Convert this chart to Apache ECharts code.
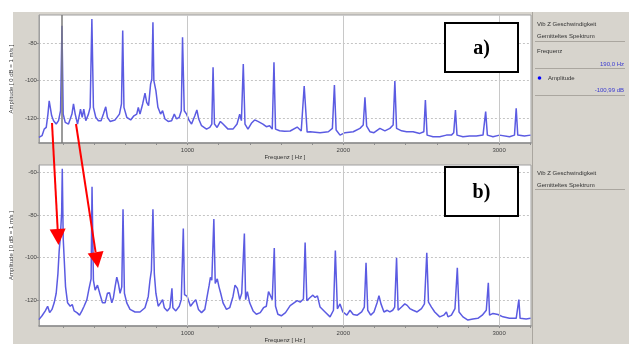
<!DOCTYPE html>
<html>
<head>
<meta charset="utf-8">
<script src="https://cdn.jsdelivr.net/npm/echarts@6/dist/echarts.min.js"></script>
<style>
html, body { margin: 0; padding: 0; background: #fff; }
#con { width: 629px; height: 344px; }
</style>
</head>
<body>
<div id="con"></div>
<script>
// a) Spektrum oben
var freqA = [
	46, 66, 80, 93, 104, 112, 119, 128, 140, 157,
	172, 185, 194, 202, 215, 236, 258, 268, 279, 294,
	307, 313, 324, 334, 347, 364, 375, 386, 396, 411,
	428, 445, 460, 475, 486, 503, 535, 563, 576, 584,
	592, 610, 635, 656, 674, 684, 695, 712, 727, 738,
	750, 763, 771, 778, 784, 797, 810, 827, 840, 855,
	876, 898, 915, 930, 947, 960, 968, 979, 994, 1011,
	1026, 1047, 1060, 1072, 1090, 1122, 1143, 1156, 1164, 1173,
	1190, 1211, 1228, 1260, 1292, 1318, 1335, 1346, 1358, 1369,
	1388, 1410, 1431, 1452, 1484, 1506, 1527, 1544, 1555, 1565,
	1591, 1623, 1659, 1704, 1730, 1749, 1768, 1787, 1851, 1904,
	1930, 1943, 1954, 1979, 2011, 2064, 2107, 2128, 2139, 2150,
	2171, 2197, 2235, 2267, 2299, 2320, 2331, 2342, 2374, 2406,
	2448, 2491, 2517, 2527, 2538, 2576, 2619, 2662, 2694, 2709,
	2720, 2730, 2768, 2811, 2854, 2897, 2914, 2925, 2961, 3003,
	3067, 3099, 3110, 3120, 3163, 3202
];
var ampA = [
	-130.3, -129.4, -125.9, -125, -117.9, -110.8, -114.3, -118.8, -121.4, -123.2,
	-121.4, -116, -70.8, -117.9, -122.3, -123.2, -117.9, -112.5, -117.9, -123.2,
	-117.9, -115.2, -119.6, -115.2, -121.4, -117.9, -114.3, -67.2, -114.3, -119.6,
	-121.4, -121.4, -117.9, -114, -119.6, -121.8, -121, -117.9, -112.5, -73.4,
	-114.3, -119.6, -121, -118.8, -117.9, -114.3, -117.9, -112.5, -106.8, -111.6,
	-113.4, -101.9, -99.2, -69, -100.1, -105.4, -114.3, -117.9, -116.1, -120.5,
	-121.8, -121.4, -117.9, -120.5, -119.6, -116.1, -77, -116.1, -117.9, -121.4,
	-123.2, -118.8, -115.7, -120.5, -124.1, -125.9, -125, -123.2, -93, -123.2,
	-125, -121.8, -123.2, -125.9, -125.9, -123.2, -117.9, -121.4, -91.2, -123.2,
	-125.9, -122.8, -121, -121.8, -123.2, -124.6, -124.1, -125.9, -90.3, -125.9,
	-126.8, -127.1, -126.9, -124.8, -126.9, -102.9, -127.5, -127.3, -127.8, -127.3,
	-125.5, -102.4, -126.4, -129.1, -127.8, -127.3, -125.5, -123.7, -109, -124.3,
	-127.3, -127.8, -125.5, -126.8, -125.5, -123.7, -100.3, -125.5, -126.8, -127.3,
	-127.3, -128.2, -127.3, -110.4, -129.1, -130, -130, -129.1, -129.1, -127.8,
	-115.7, -129.1, -130, -129.6, -129.6, -129.1, -116.6, -129.1, -130, -129.1,
	-130, -129.1, -114.8, -129.1, -129.6, -129.1
];

// b) Spektrum unten
var freqB = [
	46, 66, 87, 102, 115, 130, 144, 157, 168, 176,
	183, 192, 196, 202, 209, 217, 230, 247, 260, 272,
	290, 307, 322, 336, 354, 368, 381, 387, 396, 407,
	422, 432, 439, 454, 471, 486, 499, 514, 524, 535,
	546, 556, 567, 578, 586, 595, 610, 631, 663, 695,
	727, 748, 759, 768, 778, 787, 797, 812, 827, 840,
	851, 870, 887, 896, 900, 906, 925, 947, 960, 973,
	981, 998, 1019, 1036, 1053, 1070, 1090, 1111, 1126, 1139,
	1147, 1156, 1169, 1178, 1191, 1202, 1213, 1228, 1250, 1271,
	1292, 1305, 1320, 1335, 1348, 1365, 1373, 1384, 1399, 1421,
	1442, 1467, 1488, 1506, 1520, 1531, 1544, 1557, 1565, 1580,
	1602, 1629, 1659, 1704, 1723, 1744, 1755, 1766, 1787, 1805,
	1819, 1834, 1851, 1883, 1915, 1937, 1949, 1962, 1979, 1997,
	2023, 2043, 2064, 2090, 2118, 2135, 2146, 2157, 2176, 2197,
	2218, 2229, 2242, 2261, 2282, 2299, 2317, 2330, 2342, 2352,
	2374, 2395, 2410, 2427, 2448, 2474, 2502, 2521, 2536, 2547,
	2566, 2587, 2619, 2645, 2662, 2672, 2694, 2717, 2732, 2743,
	2768, 2800, 2832, 2864, 2892, 2918, 2931, 2939, 2961, 2993,
	3025, 3067, 3110, 3127, 3135, 3174, 3202
];
var ampB = [
	-129.2, -127.4, -125.1, -122.9, -125.9, -124.4, -121.3, -116.8, -107.7, -97,
	-91, -78.8, -58.3, -91, -101.6, -113.8, -121.3, -122.9, -122.1, -125.1,
	-125.9, -127.1, -125.1, -122.9, -119.8, -114.5, -110, -66.7, -110.7, -115.3,
	-113, -113.8, -117.5, -121.3, -121.3, -116.8, -116.5, -121.3, -119, -113.8,
	-109.2, -112.2, -116.8, -113.8, -77.3, -116.8, -121.3, -124.4, -125.6, -125.6,
	-123.6, -118.3, -110.7, -106.2, -77.3, -107.7, -116.8, -122.9, -121.3, -119.8,
	-123.6, -125.1, -123.6, -122.9, -114.5, -123.6, -125.1, -122.9, -119.8, -86.4,
	-117.5, -118.3, -122.9, -121.3, -119.8, -124.4, -125.9, -124.4, -118.3, -113,
	-109.3, -110.7, -81.9, -112.2, -110, -113.8, -116.8, -121.3, -124.4, -123.6,
	-118.3, -113, -114.5, -119.8, -116.8, -88.7, -119.8, -116, -121.3, -125.1,
	-126.7, -125.9, -123.6, -122.9, -116, -115.3, -119.8, -95.5, -122.9, -126.7,
	-127.4, -125.9, -122.6, -120.3, -121, -119.5, -93, -120.3, -118.8, -117.7,
	-118.8, -118, -123.3, -125.6, -127.9, -124.8, -96.7, -124.1, -121.8, -125.6,
	-127.1, -124.8, -126.8, -127.1, -125.6, -123.3, -102.5, -124.8, -127.1, -125.6,
	-121, -118, -121.8, -125.6, -124.8, -125.6, -124.8, -123.3, -100.1, -124.8,
	-123.3, -121.8, -122.5, -124, -124.8, -125.6, -124, -121.8, -97.8, -121,
	-123.3, -125.6, -127.9, -127.1, -125.6, -127.9, -127.1, -124, -104.8, -125.6,
	-127.9, -129.4, -128.9, -128.6, -127.1, -124.8, -111.9, -127.1, -126.3, -126.8,
	-127.9, -128.6, -128.6, -119.8, -128.6, -128.9, -128.6
];

var xLabels = [1000, 2000, 3000];
var xTicks = [200, 400, 600, 800, 1000, 1200, 1400, 1600, 1800, 2000, 2200, 2400, 2600, 2800, 3000, 3200];
var yLabelsA = [-120, -100, -80];
var yLabelsB = [-120, -100, -80, -60];
var cursorFreq = 190;
var panelTitle = ['Vib Z Geschwindigkeit', 'Gemitteltes Spektrum'];
var cursorText = ['Frequenz', '190,0 Hz', 'Amplitude', '-100,99 dB'];

function pairs(f, a) {
	var out = [];
	for (var i = 0; i < f.length; i++) {
		out.push([f[i], a[i]]);
	}
	return out;
}

var font = 'Liberation Sans';
var blue = '#5b5be2';

function xAxisFor(idx) {
	return {
		type: 'value', gridIndex: idx, min: 46, max: 3205,
		name: 'Frequenz [ Hz ]', nameLocation: 'middle', nameGap: 11,
		nameTextStyle: { fontSize: 6, color: '#333', fontFamily: font },
		axisLine: { lineStyle: { color: '#8c8c8c', width: 1.5 } },
		axisTick: { customValues: xTicks, length: 2, lineStyle: { color: '#8c8c8c' } },
		axisLabel: {
			customValues: xLabels, fontSize: 6, color: '#444', margin: 4, fontFamily: font,
			formatter: function (v) { return String(v); }
		},
		splitLine: { show: false }
	};
}

function yAxisFor(idx, mn, mx, labels) {
	return {
		type: 'value', gridIndex: idx, min: mn, max: mx,
		name: 'Amplitude [ 0 dB = 1 m/s ]', nameLocation: 'middle', nameRotate: 90, nameGap: 13,
		nameTextStyle: { fontSize: 6, color: '#333', fontFamily: font },
		axisLine: { show: true, lineStyle: { color: '#a0a0a0' } },
		axisTick: { customValues: labels, length: 2, lineStyle: { color: '#8c8c8c' } },
		axisLabel: { customValues: labels, fontSize: 6, color: '#444', margin: 2, fontFamily: font },
		splitLine: { show: true, lineStyle: { color: '#c4c4c4', type: [2, 2] } }
	};
}

// senkrechte Gitterlinien bei 1000/2000/3000
function gridLines(withCursor) {
	var d = [];
	for (var i = 0; i < xLabels.length; i++) {
		d.push({ xAxis: xLabels[i], lineStyle: { color: '#c8c8c8', width: 1, type: 'solid' } });
	}
	if (withCursor) {
		d.push({ xAxis: cursorFreq, lineStyle: { color: '#7a7a7a', width: 1.5, type: 'solid' } });
	}
	return { silent: true, symbol: 'none', label: { show: false }, data: d };
}

// rote Pfeile
function arrow(x1, y1, x2, y2) {
	var dx = x2 - x1, dy = y2 - y1;
	var len = Math.sqrt(dx * dx + dy * dy);
	var ux = dx / len, uy = dy / len;
	var bx = x2 - 16 * ux, by = y2 - 16 * uy;
	return [
		{ type: 'line', z: 100, shape: { x1: x1, y1: y1, x2: bx, y2: by }, style: { stroke: '#ff0000', lineWidth: 2 } },
		{ type: 'polygon', z: 100, shape: { points: [[x2, y2], [bx + 8 * uy, by - 8 * ux], [bx - 8 * uy, by + 8 * ux]] }, style: { fill: '#ff0000' } }
	];
}

function labelBox(x, y, txt) {
	return [
		{ type: 'rect', z: 100, shape: { x: x, y: y, width: 73, height: 49 }, style: { fill: '#fff', stroke: '#000', lineWidth: 2 } },
		{ type: 'text', z: 101, x: x + 36.5, y: y + 26, style: { text: txt, fontSize: 20, fontWeight: 'bold', fontFamily: 'Liberation Serif', fill: '#000', align: 'center', verticalAlign: 'middle' } }
	];
}

function panelText(x, y, txt, opt) {
	opt = opt || {};
	return { type: 'text', z: 50, x: x, y: y, style: { text: txt, fontSize: 6, fontFamily: font, fill: opt.fill || '#333', align: opt.align || 'left', verticalAlign: 'middle' } };
}

function panelLine(y) {
	return { type: 'line', z: 50, shape: { x1: 535, y1: y, x2: 625, y2: y }, style: { stroke: '#aaa69f', lineWidth: 1 } };
}

var graphics = [
	{ type: 'rect', z: -10, shape: { x: 13, y: 12, width: 616, height: 332 }, style: { fill: '#d7d4cd' } },
	{ type: 'line', z: 50, shape: { x1: 532.5, y1: 12, x2: 532.5, y2: 344 }, style: { stroke: '#aaa69f', lineWidth: 1 } },
	panelText(537, 24, panelTitle[0]),
	panelText(537, 36, panelTitle[1]),
	panelLine(41.5),
	panelText(537, 51, cursorText[0]),
	panelText(624, 64, cursorText[1], { align: 'right', fill: '#3a3ad0' }),
	panelLine(68.5),
	{ type: 'circle', z: 50, shape: { cx: 539.5, cy: 78, r: 1.8 }, style: { fill: '#0000ff' } },
	panelText(548, 78, cursorText[2]),
	panelText(624, 90, cursorText[3], { align: 'right', fill: '#3a3ad0' }),
	panelLine(95.5),
	panelText(537, 173, panelTitle[0]),
	panelText(537, 185, panelTitle[1]),
	panelLine(189.5)
];
graphics = graphics.concat(labelBox(445, 23, 'a)'), labelBox(445, 167, 'b)'));
graphics = graphics.concat(arrow(52, 123, 58.5, 245), arrow(76, 124, 98, 268));

var myChart = echarts.init(document.getElementById('con'), null, { renderer: 'canvas' });

var option = {
	backgroundColor: '#fff',
	animation: false,
	grid: [
		{ left: 38, top: 15, width: 493, height: 128, show: true, backgroundColor: '#fff', borderColor: '#a0a0a0', borderWidth: 1 },
		{ left: 38, top: 165, width: 493, height: 166, show: true, backgroundColor: '#fff', borderColor: '#a0a0a0', borderWidth: 1 }
	],
	xAxis: [xAxisFor(0), xAxisFor(1)],
	yAxis: [
		yAxisFor(0, -133.3, -65.1, yLabelsA),
		yAxisFor(1, -132.2, -56.5, yLabelsB)
	],
	series: [
		{
			name: 'a', type: 'line', xAxisIndex: 0, yAxisIndex: 0,
			data: pairs(freqA, ampA), showSymbol: false, smooth: false,
			lineStyle: { color: blue, width: 1.5 },
			markLine: gridLines(true)
		},
		{
			name: 'b', type: 'line', xAxisIndex: 1, yAxisIndex: 1,
			data: pairs(freqB, ampB), showSymbol: false, smooth: false,
			lineStyle: { color: blue, width: 1.5 },
			markLine: gridLines(false)
		}
	],
	graphic: graphics
};

myChart.setOption(option);
window.onresize = myChart.resize;
</script>
</body>
</html>
